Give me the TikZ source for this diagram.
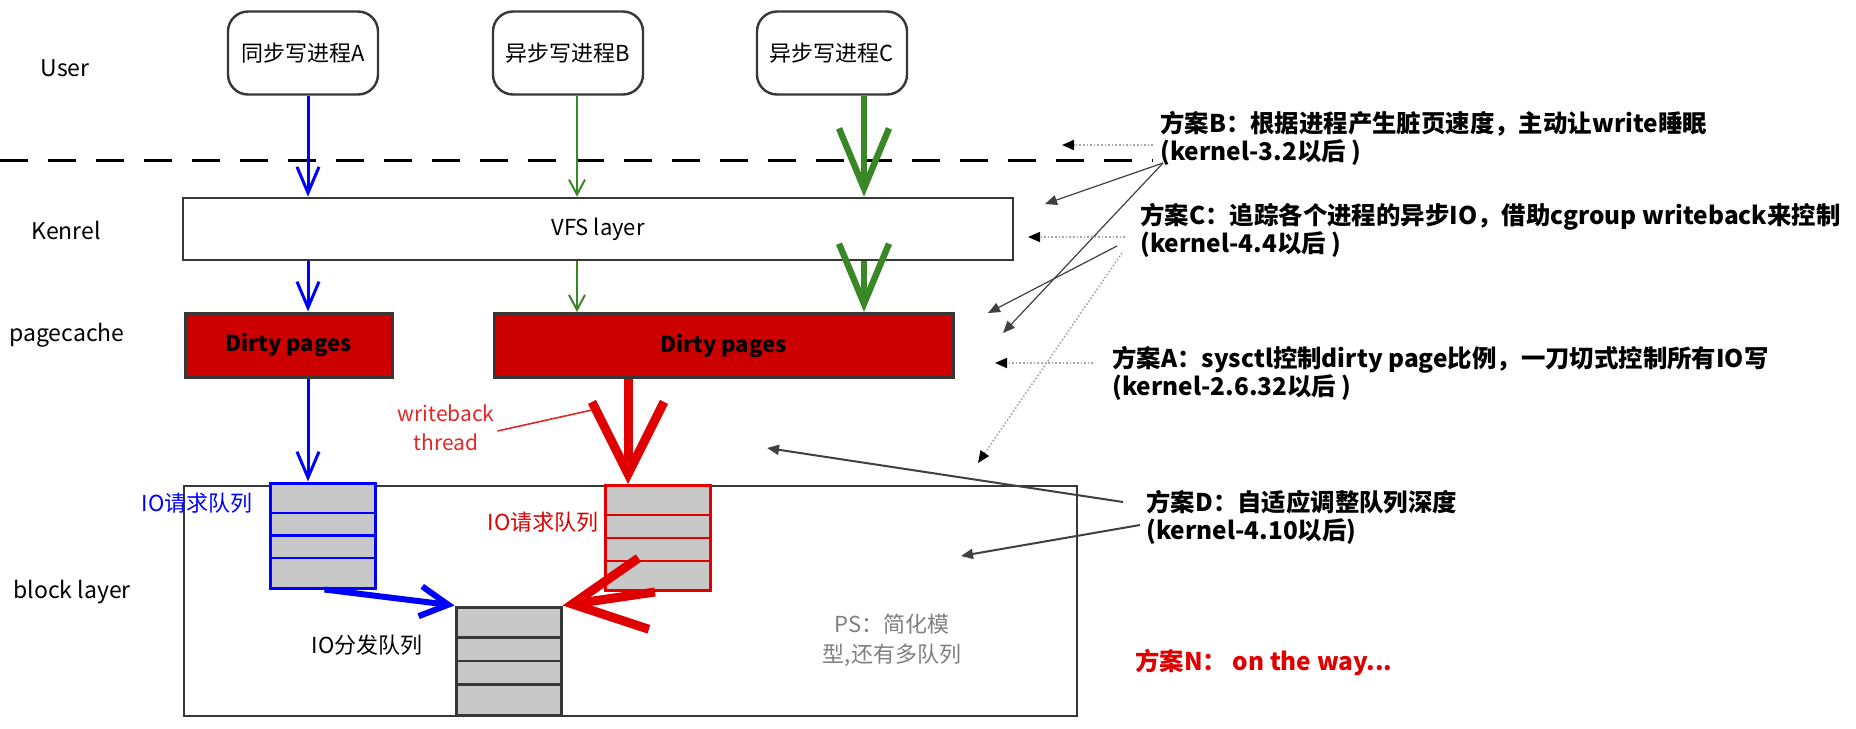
\documentclass[tikz,border=0pt]{standalone}
\usepackage{fontspec}
\setmainfont{Noto Sans CJK SC}
\usepackage{xcolor}
\usetikzlibrary{arrows.meta, positioning, calc}
\definecolor{ioblue}{RGB}{0, 0, 255}
\definecolor{iogreen}{RGB}{58, 135, 40}
\definecolor{pagered}{RGB}{204, 0, 0}
\definecolor{arrowred}{RGB}{225, 0, 0}
\definecolor{queuegray}{RGB}{200, 200, 200}
\definecolor{edgegray}{RGB}{55, 55, 55}

\tikzset{
  layerlabel/.style={font=\fontsize{11.5}{13}\selectfont},
  proc/.style={draw=edgegray, line width=1.2pt, rounded corners=10pt, minimum width=75pt, minimum height=41.5pt, font=\fontsize{11}{13}\selectfont},
  layerbox/.style={draw=edgegray, line width=1.3pt, fill=white, font=\fontsize{11}{13}\selectfont},
  dirty/.style={draw=edgegray, line width=1.5pt, fill=pagered, minimum height=32pt, font=\bfseries\fontsize{11}{13}\selectfont},
  queue/.style={line width=1.5pt, fill=queuegray, minimum width=52.5pt, minimum height=52.5pt, inner sep=0pt},
  qlabel/.style={font=\fontsize{11}{13}\selectfont},
  note/.style={align=left, anchor=west, inner sep=0pt, font=\bfseries\fontsize{12.2}{14}\selectfont},
  ptr/.style={-{Triangle[length=6pt, width=5pt]}, draw=black!75, line width=0.6pt},
  dotptr/.style={-{Triangle[length=6pt, width=5pt, color=black]}, draw=gray!70, densely dotted, line width=0.8pt},
  thinblue/.style={ioblue, line width=1.5pt, -{Straight Barb[length=13pt, width=11pt]}},
  thingreen/.style={iogreen, line width=1pt, -{Straight Barb[length=7.5pt, width=8pt]}},
  fatgreen/.style={iogreen, line width=3.2pt, -{Straight Barb[length=30pt, width=25pt]}},
  fatblue/.style={ioblue, line width=3pt, -{Straight Barb[length=14pt, width=15pt]}},
  fatred/.style={arrowred, line width=4.5pt, -{Straight Barb[length=36pt, width=36pt]}},
}

\begin{document}
\begin{tikzpicture}[x=0.5pt, y=-0.5pt]
  \useasboundingbox (0,0) rectangle (1856,728);
  \fill[white] (0,0) rectangle (1856,728);

  % Layer labels
  \node[layerlabel] (luser) at (65,68) {User};
  \node[layerlabel] (lkernel) at (66,230) {Kenrel};
  \node[layerlabel] (lcache) at (67,335) {pagecache};
  \node[layerlabel] (lblock) at (72,592) {block layer};

  % User / kernel boundary
  \draw[line width=1.5pt, dash pattern=on 14pt off 10pt] (0,160) -- (1153,160);

  % Writing processes
  \node[proc] (pa) at (303,53) {同步写进程A};
  \node[proc] (pb) at (568,53) {异步写进程B};
  \node[proc] (pc) at (832,53) {异步写进程C};

  % Kernel layers
  \node[layerbox, minimum width=415pt, minimum height=31pt] (vfs) at (598,229) {VFS layer};
  \node[dirty, minimum width=103.5pt] (dpa) at (288.5,345) {Dirty pages};
  \node[dirty, minimum width=229.5pt] (dpb) at (723.5,345.5) {Dirty pages};
  \node[layerbox, minimum width=446.5pt, minimum height=115pt] (blk) at (630.5,601) {};

  % Queues
  \node[queue, draw=ioblue] (qa) at (322.5,535.5) {};
  \node[queue, draw=arrowred] (qb) at (658,538) {};
  \node[queue, draw=edgegray, minimum height=54pt] (qd) at (508.5,661) {};
  \foreach \f in {0.29,0.5,0.71} {
    \draw[ioblue, line width=1.2pt] ($(qa.north west)!\f!(qa.south west)$) -- ($(qa.north east)!\f!(qa.south east)$);
    \draw[arrowred, line width=1pt] ($(qb.north west)!\f!(qb.south west)$) -- ($(qb.north east)!\f!(qb.south east)$);
    \draw[edgegray, line width=1.2pt] ($(qd.north west)!\f!(qd.south west)$) -- ($(qd.north east)!\f!(qd.south east)$);
  }
  \node[qlabel, ioblue] (la) at (197,503) {IO请求队列};
  \node[qlabel, arrowred] (lb) at (543,522) {IO请求队列};
  \node[qlabel] (ld) at (367,645) {IO分发队列};
  \node[qlabel, gray, align=center, font=\fontsize{11}{15}\selectfont] (ps) at (892,640) {PS：简化模\\型,还有多队列};

  % Write paths
  \coordinate (colA) at (308,0);
  \coordinate (colB) at (577,0);
  \coordinate (colC) at (864,0);
  \coordinate (colR) at (628,0);
  \draw[thinblue] (pa.south -| colA) -- (vfs.north -| colA);
  \draw[thinblue] (vfs.south -| colA) -- (dpa.north -| colA);
  \draw[thinblue] (dpa.south -| colA) -- (qa.north -| colA);
  \draw[thingreen] (pb.south -| colB) -- (vfs.north -| colB);
  \draw[thingreen] (vfs.south -| colB) -- (dpb.north -| colB);
  \draw[fatgreen] (pc.south -| colC) -- (vfs.north -| colC);
  \draw[fatgreen] (vfs.south -| colC) -- (dpb.north -| colC);
  \draw[fatred] (dpb.south -| colR) -- (qb.north -| colR);
  \draw[fatblue] ($(qa.south)+(2,0)$) -- (qd.north west);
  \draw[fatred] ($(qb.south)+(-3,0)$) -- (qd.north east);

  % Writeback thread
  \node[arrowred!85, align=center, font=\fontsize{10.5}{14.5}\selectfont] (wb) at (446,428) {writeback\\thread};
  \coordinate (wbtip) at (592,410);
  \draw[arrowred!85, line width=0.8pt] ($(wb.east)+(-4,3)$) -- (wbtip);

  % Control schemes
  \node[note] (planB) at (1160,138) {方案B：根据进程产生脏页速度，主动让write睡眠\\(kernel-3.2以后 )};
  \node[note] (planC) at (1140,230) {方案C：追踪各个进程的异步IO，借助cgroup writeback来控制\\(kernel-4.4以后 )};
  \node[note] (planA) at (1112,373) {方案A：sysctl控制dirty page比例，一刀切式控制所有IO写\\(kernel-2.6.32以后 )};
  \node[note] (planD) at (1146,517) {方案D：自适应调整队列深度\\(kernel-4.10以后)};
  \node[note, arrowred] (planN) at (1135,663) {方案N：\ on the way...};

  \coordinate (tipB1) at (1062,145);
  \coordinate (tipB2) at (1045,204);
  \coordinate (tipB3) at (1003,333);
  \coordinate (tipC1) at (1028,237);
  \coordinate (tipC2) at (988,313);
  \coordinate (tipC3) at (978,463);
  \coordinate (tipA1) at (995,363);
  \coordinate (tipD1) at (767,448);
  \coordinate (tipD2) at (961,556);
  \draw[dotptr] ([shift={(-7,7)}]planB.west) -- (tipB1);
  \draw[ptr] ([shift={(3,25)}]planB.west) -- (tipB2);
  \draw[ptr] ([shift={(3,25)}]planB.west) -- (tipB3);
  \draw[dotptr] ([shift={(-15,7)}]planC.west) -- (tipC1);
  \draw[ptr] ([shift={(-23,16)}]planC.west) -- (tipC2);
  \draw[dotptr] ([shift={(-18,23)}]planC.west) -- (tipC3);
  \draw[dotptr] ([shift={(-19,-10)}]planA.west) -- (tipA1);
  \draw[ptr, line width=1pt] ([shift={(-23,-15)}]planD.west) -- (tipD1);
  \draw[ptr, line width=1pt] ([shift={(-6,8)}]planD.west) -- (tipD2);
\end{tikzpicture}
\end{document}
